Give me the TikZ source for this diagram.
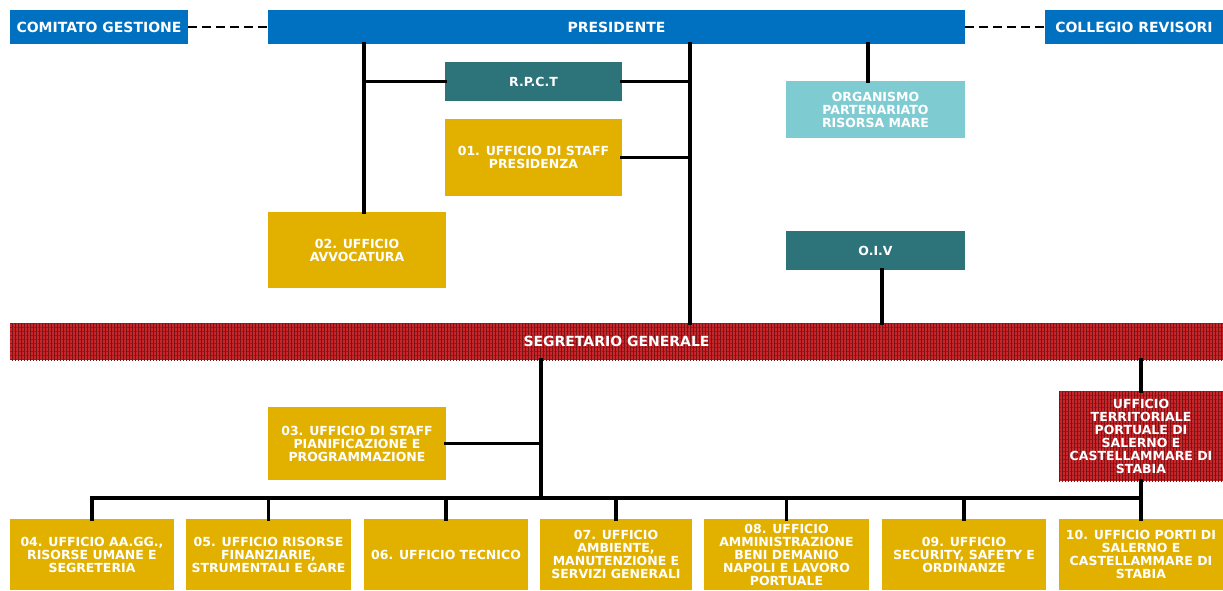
\documentclass[tikz,border=0pt]{standalone}
\usepackage{fontspec}
\setmainfont{DejaVu Sans}
\usetikzlibrary{patterns.meta}
\definecolor{pblue}{HTML}{0070C0}
\definecolor{pteal}{HTML}{2C737A}
\definecolor{plteal}{HTML}{7FCBD2}
\definecolor{pgold}{HTML}{E2B100}
\definecolor{sgred}{HTML}{C9262C}
\definecolor{sgdark}{HTML}{781416}
\tikzset{
  box/.style={inner sep=0pt, outer sep=0pt, align=center, text=white,
    font=\fontsize{12.5}{13}\selectfont\bfseries},
  bigtext/.style={font=\fontsize{14}{15}\selectfont\bfseries},
  bluebox/.style={box, fill=pblue, bigtext},
  tealbox/.style={box, fill=pteal},
  ltealbox/.style={box, fill=plteal},
  goldbox/.style={box, fill=pgold},
  redbox/.style={box, preaction={fill=sgred},
    pattern={Lines[distance=3pt,angle=90,line width=0.8pt]}, pattern color=sgdark,
    postaction={pattern={Lines[distance=4pt,angle=0,line width=0.5pt]}, pattern color=sgdark}},
  wh/.style n args={2}{minimum width=#1pt, minimum height=#2pt},
  conn/.style={line width=3.5pt, line cap=rect},
  dconn/.style={line width=2.8pt, dash pattern=on 9pt off 5pt},
}
\begin{document}
\begin{tikzpicture}[x=1pt,y=-1pt]
\useasboundingbox (0,0) rectangle (1223,590);
% top row
\node[bluebox, wh={178}{34}] (cg) at (99,27) {COMITATO GESTIONE};
\node[bluebox, wh={697}{34}] (pres) at (616.5,27) {PRESIDENTE};
\node[bluebox, wh={178}{34}] (cr) at (1134,27) {COLLEGIO REVISORI};
% staff
\node[tealbox, wh={177}{39}] (rpct) at (533.5,81.5) {R.P.C.T};
\node[ltealbox, wh={179}{57}] (org) at (875.5,109.5) {ORGANISMO\\PARTENARIATO\\RISORSA MARE};
\node[goldbox, wh={177}{77}] (u01) at (533.5,157.5) {01. UFFICIO DI STAFF\\PRESIDENZA};
\node[goldbox, wh={178}{76}] (u02) at (357,250) {02. UFFICIO\\AVVOCATURA};
\node[tealbox, wh={179}{39}] (oiv) at (875.5,250.5) {O.I.V};
% segretario
\node[redbox, bigtext, wh={1213}{37}] (sg) at (616.5,341.5) {SEGRETARIO GENERALE};
\node[goldbox, wh={178}{73}] (u03) at (357,443.5) {03. UFFICIO DI STAFF\\PIANIFICAZIONE E\\PROGRAMMAZIONE};
\node[redbox, wh={164}{90}] (ut) at (1141,436) {UFFICIO\\TERRITORIALE\\PORTUALE DI\\SALERNO E\\CASTELLAMMARE DI\\STABIA};
% bottom row
\node[goldbox, wh={164}{71}] (u04) at (92,554.5) {04. UFFICIO AA.GG.,\\RISORSE UMANE E\\SEGRETERIA};
\node[goldbox, wh={165}{71}] (u05) at (268.5,554.5) {05. UFFICIO RISORSE\\FINANZIARIE,\\STRUMENTALI E GARE};
\node[goldbox, wh={164}{71}] (u06) at (446,554.5) {06. UFFICIO TECNICO};
\node[goldbox, wh={152}{71}] (u07) at (616,554.5) {07. UFFICIO\\AMBIENTE,\\MANUTENZIONE E\\SERVIZI GENERALI};
\node[goldbox, wh={165}{71}] (u08) at (786.5,554.5) {08. UFFICIO\\AMMINISTRAZIONE\\BENI DEMANIO\\NAPOLI E LAVORO\\PORTUALE};
\node[goldbox, wh={164}{71}] (u09) at (964,554.5) {09. UFFICIO\\SECURITY, SAFETY E\\ORDINANZE};
\node[goldbox, wh={164}{71}] (u10) at (1141,554.5) {10. UFFICIO PORTI DI\\SALERNO E\\CASTELLAMMARE DI\\STABIA};
% helper coordinates
\coordinate (a1) at (364,0);
\coordinate (a2) at (690,0);
\coordinate (a3) at (868,0);
\coordinate (a4) at (882,0);
\coordinate (a5) at (541,0);
\coordinate (bus) at (0,498);
% dashed
\draw[dconn] (cg.east) -- (pres.west);
\draw[dconn] (pres.east) -- (cr.west);
% solid connectors
\draw[conn] (a1 |- pres.south) -- (a1 |- u02.north);
\draw[conn] (a1 |- rpct.west) -- (rpct.west);
\draw[conn] (a2 |- pres.south) -- (a2 |- sg.north);
\draw[conn] (rpct.east) -- (a2 |- rpct.east);
\draw[conn] (u01.east) -- (a2 |- u01.east);
\draw[conn] (a3 |- pres.south) -- (a3 |- org.north);
\draw[conn] (a4 |- oiv.south) -- (a4 |- sg.north);
\draw[conn] (a5 |- sg.south) -- (a5 |- bus);
\draw[conn] (u03.east) -- (a5 |- u03.east);
\draw[conn] (ut.north |- sg.south) -- (ut.north);
\draw[conn] (ut.south) -- (u10.north);
\draw[conn] (u04.north |- bus) -- (u10.north |- bus);
\foreach \n in {u04,u05,u06,u07,u08,u09}{
  \draw[conn] (\n.north |- bus) -- (\n.north);
}
\end{tikzpicture}
\end{document}
